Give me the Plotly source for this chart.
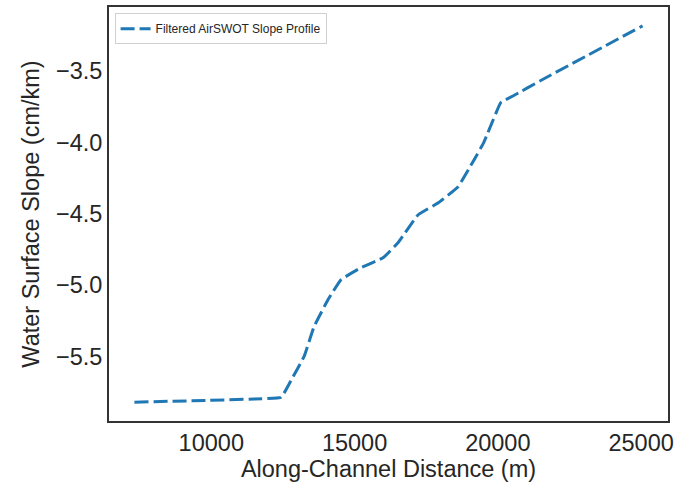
import plotly.graph_objects as go

distance_m = [7317, 9800, 11500, 12439, 12800, 13240, 13589, 14077, 14530, 15226, 15993, 16516,
              17213, 17909, 18606, 19164, 19512, 19930, 20105, 20557, 21498, 25052]
slope_cm_km = [-5.819, -5.807, -5.797, -5.784, -5.66, -5.498, -5.289, -5.100, -4.961, -4.877, -4.808, -4.703,
               -4.508, -4.424, -4.312, -4.124, -3.999, -3.796, -3.720, -3.671, -3.566, -3.183]

x_ticks = [10000, 15000, 20000, 25000]
y_ticks = [-5.5, -5.0, -4.5, -4.0, -3.5]

fig = go.Figure()
fig.add_trace(go.Scatter(
    x=distance_m, y=slope_cm_km, mode="lines",
    name="Filtered AirSWOT Slope Profile",
    line=dict(color="#1f77b4", width=3, dash="14px,5px", shape="spline", smoothing=0.3),
))

txt = "#262626"
font_family = "Liberation Sans, Arial, sans-serif"
fig.update_layout(
    width=691, height=482,
    margin=dict(l=109, r=23, t=5, b=60),
    paper_bgcolor="white", plot_bgcolor="white",
    font=dict(family=font_family, color=txt),
    showlegend=True,
    legend=dict(x=0.01, y=0.985, xanchor="left", yanchor="top",
                bgcolor="white", bordercolor="#d0d0d0", borderwidth=1,
                font=dict(size=12, color=txt), itemwidth=30),
)
fig.update_xaxes(
    range=[6430, 25939], tickvals=x_ticks, ticktext=[str(v) for v in x_ticks],
    showgrid=False, zeroline=False, showline=True, mirror=True,
    linecolor="#333333", linewidth=1.8, ticks="",
    tickfont=dict(size=23.5, color=txt),
    title=dict(text="Along-Channel Distance (m)", font=dict(size=23.5, color=txt), standoff=4),
)
fig.update_yaxes(
    range=[-5.951, -3.051], tickvals=y_ticks, ticktext=[f"\u2212{abs(v):.1f}" for v in y_ticks],
    showgrid=False, zeroline=False, showline=True, mirror=True,
    linecolor="#333333", linewidth=1.8, ticks="",
    tickfont=dict(size=23.5, color=txt),
    title=dict(text="Water Surface Slope (cm/km)", font=dict(size=23.5, color=txt), standoff=10),
)

fig.write_html("out.html")
